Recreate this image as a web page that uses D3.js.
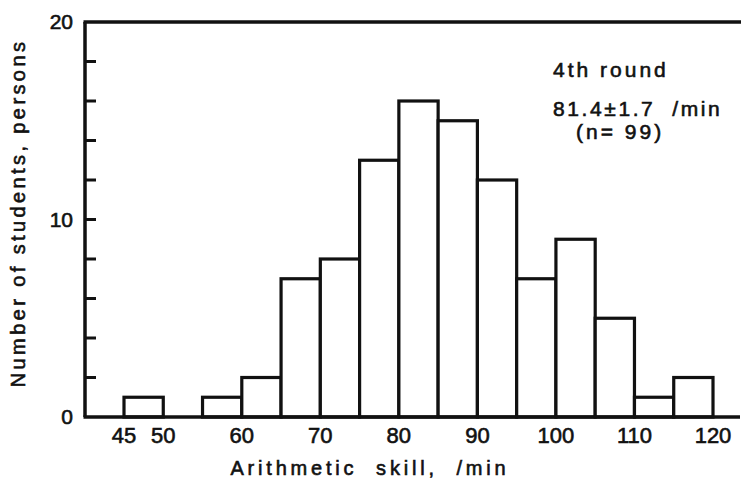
<!DOCTYPE html>
<html>
<head>
<meta charset="utf-8">
<script src="https://cdn.jsdelivr.net/npm/d3@7"></script>
<style>
  body { margin: 0; background: #fff; }
  text { font-family: "Liberation Sans", Arial, sans-serif; fill: #111; stroke: #111; stroke-width: 0.6px; }
</style>
</head>
<body>
<svg width="741" height="478"></svg>
<script>
// bins of 5 /min, left edges
var binStarts = [45, 50, 55, 60, 65, 70, 75, 80, 85, 90, 95, 100, 105, 110, 115];
var counts    = [1, 0, 1, 2, 7, 8, 13, 16, 15, 12, 7, 9, 5, 1, 2];
var xTickLabels = [45, 50, 60, 70, 80, 90, 100, 110, 120];
var yTickLabels = [0, 10, 20];
var yMinorTicks = [2, 4, 6, 8, 12, 14, 16, 18];

var svg = d3.select("svg"),
    width = +svg.attr("width"),
    height = +svg.attr("height");

var x = d3.scaleLinear().domain([45, 120]).range([124, 713]);
var y = d3.scaleLinear().domain([0, 20]).range([417, 22]);
var x0 = 85;

// bars
svg.append("g")
    .selectAll("rect")
    .data(binStarts.map(function (d, i) { return {x: d, n: counts[i]}; })
      .filter(function (d) { return d.n > 0; }))
    .enter()
    .append("rect")
    .attr("x", function (d) { return x(d.x); })
    .attr("y", function (d) { return y(d.n); })
    .attr("width", function (d) { return x(d.x + 5) - x(d.x); })
    .attr("height", function (d) { return y(0) - y(d.n); })
    .attr("fill", "#fff")
    .attr("stroke", "#111")
    .attr("stroke-width", 3.2);

// frame lines: left axis, bottom axis, top line
svg.append("line").attr("x1", x0).attr("x2", x0).attr("y1", y(20)).attr("y2", y(0))
    .attr("stroke", "#111").attr("stroke-width", 3.5);
svg.append("line").attr("x1", x0 - 1.5).attr("x2", 740).attr("y1", y(0)).attr("y2", y(0))
    .attr("stroke", "#111").attr("stroke-width", 3.5);
svg.append("line").attr("x1", x0 - 1.5).attr("x2", 741).attr("y1", y(20)).attr("y2", y(20))
    .attr("stroke", "#111").attr("stroke-width", 3.5);

// inward ticks on y axis
svg.append("g")
    .selectAll("line")
    .data(yMinorTicks.concat([10]))
    .enter()
    .append("line")
    .attr("x1", x0)
    .attr("x2", x0 + 11)
    .attr("y1", function (d) { return y(d); })
    .attr("y2", function (d) { return y(d); })
    .attr("stroke", "#111")
    .attr("stroke-width", 3);

// y tick labels
svg.append("g")
    .selectAll("text")
    .data(yTickLabels)
    .enter()
    .append("text")
    .attr("x", 73)
    .attr("y", function (d) { return y(d) + 7; })
    .attr("text-anchor", "end")
    .style("font-size", "21px")
    .text(function (d) { return d; });

// x tick labels
svg.append("g")
    .selectAll("text")
    .data(xTickLabels)
    .enter()
    .append("text")
    .attr("x", function (d) { return x(d); })
    .attr("y", 443)
    .attr("text-anchor", "middle")
    .style("font-size", "22px")
    .text(function (d) { return d; });

// axis titles
svg.append("text")
    .attr("x", 370)
    .attr("y", 475)
    .attr("text-anchor", "middle")
    .style("font-size", "20px")
    .style("letter-spacing", "3.8px")
    .style("white-space", "pre")
    .text("Arithmetic  skill,  /min");

svg.append("text")
    .attr("transform", "translate(25,213) rotate(-90)")
    .attr("text-anchor", "middle")
    .style("font-size", "20px")
    .style("letter-spacing", "3.4px")
    .style("white-space", "pre")
    .text("Number of students, persons");

// annotation
svg.append("text")
    .attr("x", 553).attr("y", 77)
    .style("font-size", "21px")
    .style("letter-spacing", "3px")
    .text("4th round");
svg.append("text")
    .attr("x", 553).attr("y", 116)
    .style("font-size", "21px")
    .style("letter-spacing", "2.6px")
    .style("white-space", "pre")
    .text("81.4\u00b11.7  /min");
svg.append("text")
    .attr("x", 576).attr("y", 139)
    .style("font-size", "21px")
    .style("letter-spacing", "3px")
    .style("white-space", "pre")
    .text("(n= 99)");
</script>
</body>
</html>
